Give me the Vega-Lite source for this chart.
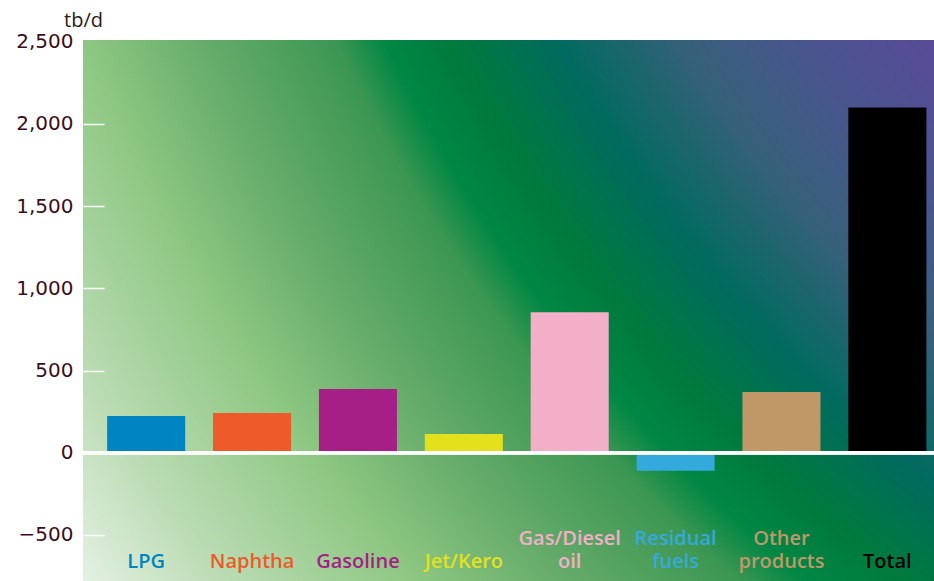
{
  "$schema": "https://vega.github.io/schema/vega-lite/v6.json",
  "autosize": {"type": "none"},
  "padding": {"left": 83, "top": 40, "right": 0, "bottom": 0},
  "width": 851,
  "height": 541,
  "background": "white",
  "config": {
    "view": {
      "stroke": null,
      "fill": {
        "gradient": "radial",
        "x1": 2.026, "y1": -0.613, "r1": 1.293,
        "x2": 2.026, "y2": -0.613, "r2": 2.481,
        "stops": [
          {"offset": 0, "color": "#5a4a98"},
          {"offset": 0.1, "color": "#4b5490"},
          {"offset": 0.21, "color": "#36607a"},
          {"offset": 0.32, "color": "#006b5e"},
          {"offset": 0.41, "color": "#007a3d"},
          {"offset": 0.47, "color": "#008744"},
          {"offset": 0.515, "color": "#3c9752"},
          {"offset": 0.63, "color": "#65ab6a"},
          {"offset": 0.74, "color": "#8dc782"},
          {"offset": 0.89, "color": "#bcdcb5"},
          {"offset": 1, "color": "#e4f1e3"}
        ]
      }
    }
  },
  "data": {
    "values": [
      {"cat": "LPG", "line1": "", "line2": "LPG", "value": 223, "color": "#0085c3"},
      {"cat": "Naphtha", "line1": "", "line2": "Naphtha", "value": 241, "color": "#ef5a2a"},
      {"cat": "Gasoline", "line1": "", "line2": "Gasoline", "value": 387, "color": "#a61f87"},
      {"cat": "Jet/Kero", "line1": "", "line2": "Jet/Kero", "value": 114, "color": "#e2e11c"},
      {"cat": "Gas/Diesel oil", "line1": "Gas/Diesel", "line2": "oil", "value": 855, "color": "#f3afc8"},
      {"cat": "Residual fuels", "line1": "Residual", "line2": "fuels", "value": -109, "color": "#34a9db"},
      {"cat": "Other products", "line1": "Other", "line2": "products", "value": 369, "color": "#c09868"},
      {"cat": "Total", "line1": "", "line2": "Total", "value": 2100, "color": "#000000"}
    ]
  },
  "encoding": {
    "x": {
      "field": "cat", "type": "nominal", "sort": null,
      "scale": {"paddingInner": 0.263, "paddingOuter": 0.15, "align": 0.76},
      "axis": null
    }
  },
  "layer": [
    {
      "mark": {"type": "bar"},
      "encoding": {
        "y": {
          "field": "value", "type": "quantitative",
          "scale": {"domain": [-780, 2510], "nice": false, "zero": false},
          "axis": {
            "values": [-500, 0, 500, 1000, 1500, 2000, 2500],
            "format": ",d",
            "domain": false,
            "grid": false,
            "tickColor": {"condition": {"test": "datum.value === 2500", "value": "transparent"}, "value": "white"},
            "tickSize": -21,
            "tickWidth": 1.5,
            "labelPadding": 31,
            "labelFont": "DejaVu Sans",
            "labelFontSize": 20,
            "labelColor": "#3d0c1c",
            "title": "tb/d",
            "titleAngle": 0,
            "titleAlign": "center",
            "titleBaseline": "alphabetic",
            "titleX": 0,
            "titleY": -14,
            "titleFont": "Open Sans",
            "titleFontSize": 20,
            "titleFontWeight": "normal",
            "titleColor": "#2a1a1a"
          }
        },
        "color": {"field": "color", "type": "nominal", "scale": null, "legend": null}
      }
    },
    {
      "mark": {"type": "rule", "color": "white", "strokeWidth": 3},
      "encoding": {"y": {"datum": 0}, "x": null}
    },
    {
      "mark": {"type": "text", "font": "Open Sans", "fontSize": 20, "fontWeight": 600, "baseline": "alphabetic", "align": "center"},
      "encoding": {
        "y": {"datum": -561},
        "text": {"field": "line1"},
        "color": {"field": "color", "type": "nominal", "scale": null, "legend": null}
      }
    },
    {
      "mark": {"type": "text", "font": "Open Sans", "fontSize": 20, "fontWeight": 600, "baseline": "alphabetic", "align": "center"},
      "encoding": {
        "y": {"datum": -701},
        "text": {"field": "line2"},
        "color": {"field": "color", "type": "nominal", "scale": null, "legend": null}
      }
    }
  ]
}
